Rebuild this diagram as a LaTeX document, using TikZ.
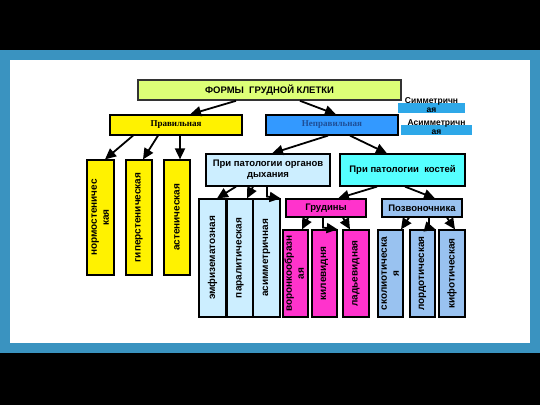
\documentclass[tikz,border=0pt]{standalone}
\usepackage{fontspec}
\setmainfont{Liberation Sans}
\newfontfamily\serifru{Liberation Serif}
\usepackage{graphicx}
\usetikzlibrary{arrows.meta}

\definecolor{framecol}{RGB}{58,147,192}
\definecolor{limecol}{RGB}{221,255,119}
\definecolor{bluecol}{RGB}{51,153,255}
\definecolor{bluetext}{RGB}{30,78,150}
\definecolor{skycol}{RGB}{46,168,232}
\definecolor{palecol}{RGB}{204,238,255}
\definecolor{cyancol}{RGB}{85,255,255}
\definecolor{magcol}{RGB}{255,51,204}
\definecolor{steelcol}{RGB}{153,194,240}

\newcommand{\twolines}[2]{\begin{tabular}{@{}c@{}}#1\\#2\end{tabular}}

\begin{document}
\begin{tikzpicture}[x=1pt, y=-1pt,
	box/.style={rectangle, draw=black, line width=1.2pt, inner sep=0pt, font=\bfseries\fontsize{9.5}{11}\selectfont},
	tallbox/.style={box, minimum width=26pt, font=\bfseries\fontsize{10}{12}\selectfont},
	tagbox/.style={rectangle, fill=skycol, inner sep=0pt, minimum height=10pt},
	tagtext/.style={inner sep=0pt, align=center, font=\bfseries\fontsize{8.5}{9.5}\selectfont},
	arr/.style={-{Triangle[length=11pt,width=10pt]}, line width=1.8pt},
	]
	\useasboundingbox (0,0) rectangle (540,405);
	\fill[black] (0,0) rectangle (540,405);
	\fill[framecol] (0,50) rectangle (540,353);
	\fill[white] (10,60) rectangle (530,343);
	
	\node[box, fill=limecol, draw=black!80, line width=1.6pt, minimum width=263pt, minimum height=20pt] at (269.5,90) (forms) {ФОРМЫ\ \ ГРУДНОЙ КЛЕТКИ};
	\node[box, fill=yellow, minimum width=132pt, minimum height=20pt, font=\serifru\bfseries\fontsize{9}{11}\selectfont] at (176,125) (prav) {Правильная};
	\node[box, fill=bluecol, minimum width=132pt, minimum height=20pt, text=bluetext, font=\serifru\bfseries\fontsize{9}{11}\selectfont] at (332,125) (neprav) {Неправильная};
	
	\node[tagbox, minimum width=67pt] at (431.5,108) (sym) {};
	\node[tagtext] at ([yshift=3pt]sym.center) (symtext) {Симметричн\\ая};
	\node[tagbox, minimum width=71pt] at (436.5,130) (asym) {};
	\node[tagtext] at ([yshift=3pt]asym.center) (asymtext) {Асимметричн\\ая};
	
	\node[tallbox, fill=yellow, minimum width=27pt, minimum height=115pt] at (100.5,217.5) (normo) {\rotatebox{90}{\twolines{нормостеничес}{кая}}};
	\node[tallbox, fill=yellow, minimum height=115pt] at (139,217.5) (giper) {\rotatebox{90}{гиперстеническая}};
	\node[tallbox, fill=yellow, minimum height=115pt] at (177,217.5) (asten) {\rotatebox{90}{астеническая}};
	
	\node[box, fill=palecol, minimum width=124pt, minimum height=32pt, align=center] at (268,170) (dyh) {При патологии органов\\дыхания};
	\node[box, fill=cyancol, minimum width=125pt, minimum height=32pt] at (402.5,170) (kost) {При патологии\ \ костей};
	
	\node[tallbox, fill=palecol, minimum width=27pt, minimum height=118pt] at (212.5,258) (emf) {\rotatebox{90}{эмфизематозная}};
	\node[tallbox, fill=palecol, minimum height=118pt] at (240,258) (paral) {\rotatebox{90}{паралитическая}};
	\node[tallbox, fill=palecol, minimum width=27pt, minimum height=118pt] at (266.5,258) (asimm) {\rotatebox{90}{асимметричная}};
	
	\node[box, fill=magcol, minimum width=80pt, minimum height=18pt] at (326,208) (grud) {Грудины};
	\node[box, fill=steelcol, minimum width=80pt, minimum height=18pt] at (422,208) (pozv) {Позвоночника};
	
	\node[tallbox, fill=magcol, minimum width=25pt, minimum height=87pt] at (295.5,273.5) (voronk) {\rotatebox{90}{\twolines{воронкообразн}{ая}}};
	\node[tallbox, fill=magcol, minimum width=25pt, minimum height=87pt] at (324.5,273.5) (kilev) {\rotatebox{90}{килевидня}};
	\node[tallbox, fill=magcol, minimum height=87pt] at (356,273.5) (ladya) {\rotatebox{90}{ладьевидная}};
	
	\node[tallbox, fill=steelcol, minimum width=25pt, minimum height=87pt] at (390.5,273.5) (skol) {\rotatebox{90}{\twolines{сколиотическа}{я}}};
	\node[tallbox, fill=steelcol, minimum width=25pt, minimum height=87pt] at (422.5,273.5) (lord) {\rotatebox{90}{лордотическая}};
	\node[tallbox, fill=steelcol, minimum height=87pt] at (452,273.5) (kifo) {\rotatebox{90}{кифотическая}};
	
	\draw[arr] ([xshift=-33.5pt]forms.south) to ([xshift=14pt]prav.north);
	\draw[arr] ([xshift=30.5pt]forms.south) to ([xshift=4pt]neprav.north);
	\draw[arr] ([xshift=-43pt]prav.south) to ([xshift=4.5pt]normo.north);
	\draw[arr] ([xshift=-18pt]prav.south) to ([xshift=4pt]giper.north);
	\draw[arr] ([xshift=4pt]prav.south) to ([xshift=3pt]asten.north);
	\draw[arr] ([xshift=-4pt]neprav.south) to ([xshift=4pt]dyh.north);
	\draw[arr] ([xshift=18pt]neprav.south) to ([xshift=-15.5pt]kost.north);
	\draw[arr] ([xshift=-32pt]dyh.south) to ([xshift=4.5pt]emf.north);
	\draw[arr] ([xshift=-15pt]dyh.south) to ([xshift=7pt]paral.north);
	\draw[arr] ([xshift=-1pt]dyh.south) -- ++(0,10) -- (asimm.north east);
	\draw[arr] ([xshift=-25.5pt]kost.south) to ([xshift=12pt]grud.north);
	\draw[arr] ([xshift=2.5pt]kost.south) to ([xshift=13pt]pozv.north);
	\draw[arr] ([xshift=-18pt]grud.south) to ([xshift=6.5pt]voronk.north);
	\draw[arr] ([xshift=-3pt]grud.south) -- ++(0,10) -- (kilev.north east);
	\draw[arr] ([xshift=17pt]grud.south) to ([xshift=-6pt]ladya.north);
	\draw[arr] ([xshift=-13pt]pozv.south) to ([xshift=10.5pt]skol.north);
	\draw[arr] ([xshift=7pt]pozv.south) -- ++(0,10) -- (lord.north east);
	\draw[arr] ([xshift=25pt]pozv.south) to ([xshift=3pt]kifo.north);
\end{tikzpicture}
\end{document}
